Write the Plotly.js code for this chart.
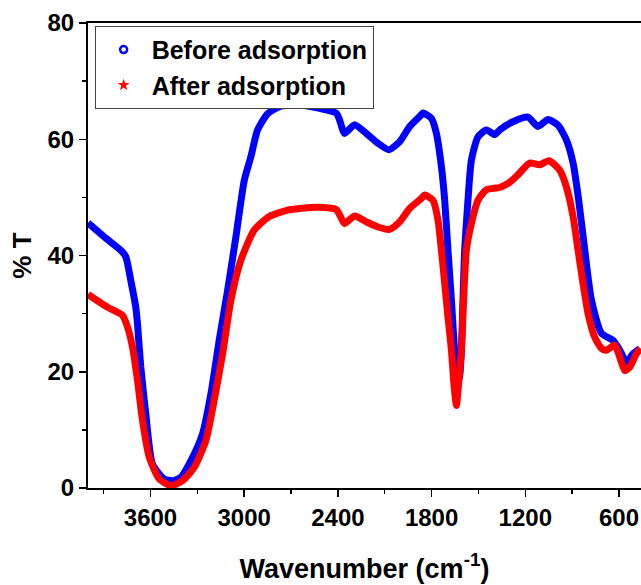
<!DOCTYPE html>
<html>
<head>
<meta charset="utf-8">
<script src="https://cdn.plot.ly/plotly-3.0.1.min.js"></script>
<style>html,body{margin:0;padding:0;background:#fff;overflow:hidden;}</style>
</head>
<body>
<div id="chart" style="width:641px;height:585px;"></div>
<script>
// Wavenumbers (cm^-1) and %T
const beforeWavenumber = [4000, 3896, 3790, 3758, 3726, 3694, 3683, 3662, 3630, 3587, 3512, 3459, 3406, 3341, 3267, 3213, 3160, 3106, 3053, 2999, 2957, 2914, 2850, 2773, 2645, 2517, 2410, 2389, 2357, 2293, 2218, 2143, 2073, 2004, 1940, 1866, 1855, 1801, 1769, 1737, 1716, 1695, 1673, 1652, 1631, 1623, 1609, 1599, 1588, 1567, 1545, 1503, 1449, 1396, 1364, 1279, 1183, 1119, 1054, 990, 937, 894, 858, 819, 776, 712, 638, 595, 552, 510, 467];
const beforeT = [45.6, 43.2, 40.9, 39.8, 35.7, 31.1, 28.2, 20.8, 12.8, 4.1, 1.55, 1.26, 1.8, 4.7, 9.3, 16.2, 25.4, 34.0, 43.2, 53.0, 57.0, 61.6, 64.4, 65.6, 65.9, 65.3, 64.5, 63.3, 61.0, 62.5, 61.0, 59.3, 58.2, 59.6, 62.2, 64.2, 64.5, 63.6, 61.0, 55.3, 49.5, 40.9, 32.3, 23.7, 19.2, 18.8, 23.7, 32.3, 40.9, 49.5, 56.4, 60.4, 61.6, 60.8, 61.6, 63.0, 63.8, 62.2, 63.4, 62.4, 59.9, 55.9, 49.5, 40.9, 32.3, 26.6, 25.4, 23.7, 21.7, 23.1, 24.0];

const afterWavenumber = [4000, 3875, 3779, 3747, 3715, 3683, 3651, 3608, 3544, 3470, 3395, 3320, 3245, 3192, 3138, 3085, 3021, 2935, 2839, 2722, 2645, 2517, 2410, 2378, 2357, 2293, 2218, 2143, 2069, 2004, 1940, 1866, 1844, 1791, 1759, 1737, 1716, 1695, 1673, 1657, 1641, 1627, 1609, 1595, 1577, 1545, 1503, 1449, 1364, 1300, 1250, 1172, 1108, 1048, 980, 937, 894, 862, 830, 798, 755, 712, 680, 627, 595, 563, 531, 488, 461];
const afterT = [33.3, 31.1, 29.7, 27.7, 24.2, 18.5, 11.6, 5.3, 1.55, 0.4, 1.26, 3.55, 8.2, 15.1, 23.1, 32.3, 39.2, 44.4, 46.7, 47.8, 48.1, 48.3, 47.9, 46.4, 45.5, 46.8, 45.8, 44.9, 44.5, 45.8, 48.1, 49.8, 50.4, 49.5, 46.1, 40.9, 35.2, 29.4, 23.7, 17.9, 14.2, 17.9, 23.7, 32.3, 40.9, 45.5, 49.5, 51.3, 51.7, 52.6, 53.8, 55.9, 55.6, 56.3, 54.7, 51.8, 46.7, 40.9, 35.1, 30.0, 25.9, 24.0, 23.7, 24.6, 22.5, 20.2, 20.8, 23.1, 24.0];

const seriesNames = ["Before adsorption", "After adsorption"];
const xTickValues = [3600, 3000, 2400, 1800, 1200, 600];
const yTickValues = [0, 20, 40, 60, 80];

const FONT = "Liberation Sans, Arial, sans-serif";

const traces = [
  {x: beforeWavenumber, y: beforeT, type: "scatter", mode: "lines",
   line: {color: "#0000ff", width: 7, shape: "spline", smoothing: 0.6}, showlegend: false, hoverinfo: "skip"},
  {x: afterWavenumber, y: afterT, type: "scatter", mode: "lines",
   line: {color: "#ff0000", width: 7, shape: "spline", smoothing: 0.6}, showlegend: false, hoverinfo: "skip"},
  {x: [null], y: [null], type: "scatter", mode: "markers", name: seriesNames[0],
   marker: {symbol: "circle-open", color: "#0000ff", size: 7, line: {width: 2.5, color: "#0000ff"}}},
  {x: [null], y: [null], type: "scatter", mode: "markers", name: seriesNames[1],
   marker: {symbol: "star", color: "#ff0000", size: 9}}
];

const layout = {
  width: 641, height: 585,
  margin: {l: 88, r: 0, t: 23, b: 97, pad: 0},
  paper_bgcolor: "#ffffff", plot_bgcolor: "#ffffff",
  font: {family: FONT, color: "#000000"},
  xaxis: {
    range: [4000, 459], autorange: false,
    tickmode: "array", tickvals: xTickValues, ticktext: xTickValues.map(String),
    ticks: "outside", ticklen: 7, tickwidth: 1.5, tickcolor: "#000",
    minor: {dtick: 300, tick0: 0, ticks: "outside", ticklen: 4, tickwidth: 1.5, tickcolor: "#000"},
    showline: true, linecolor: "#000", linewidth: 2, mirror: true,
    showgrid: false, zeroline: false,
    tickfont: {family: FONT, size: 24, weight: "bold", color: "#000"},
    title: {text: "Wavenumber (cm<sup>-1</sup>)", font: {family: FONT, size: 27, weight: "bold", color: "#000"}, standoff: 29}
  },
  yaxis: {
    range: [0, 80], autorange: false,
    tickmode: "array", tickvals: yTickValues, ticktext: yTickValues.map(String),
    ticks: "outside", ticklen: 7, tickwidth: 1.5, tickcolor: "#000",
    minor: {dtick: 10, tick0: 0, ticks: "outside", ticklen: 4, tickwidth: 1.5, tickcolor: "#000"},
    showline: true, linecolor: "#000", linewidth: 2, mirror: false,
    showgrid: false, zeroline: false,
    tickfont: {family: FONT, size: 24, weight: "bold", color: "#000"},
    title: {text: "% T", font: {family: FONT, size: 26, weight: "bold", color: "#000"}, standoff: 8}
  },
  legend: {
    x: 0.012, y: 0.994, xanchor: "left", yanchor: "top",
    bgcolor: "#ffffff", bordercolor: "#444", borderwidth: 1,
    font: {family: FONT, size: 25, weight: "bold", color: "#000"},
    itemwidth: 46, tracegroupgap: 0
  },
  showlegend: true
};

Plotly.newPlot("chart", traces, layout, {staticPlot: true, displayModeBar: false});
</script>
</body>
</html>
